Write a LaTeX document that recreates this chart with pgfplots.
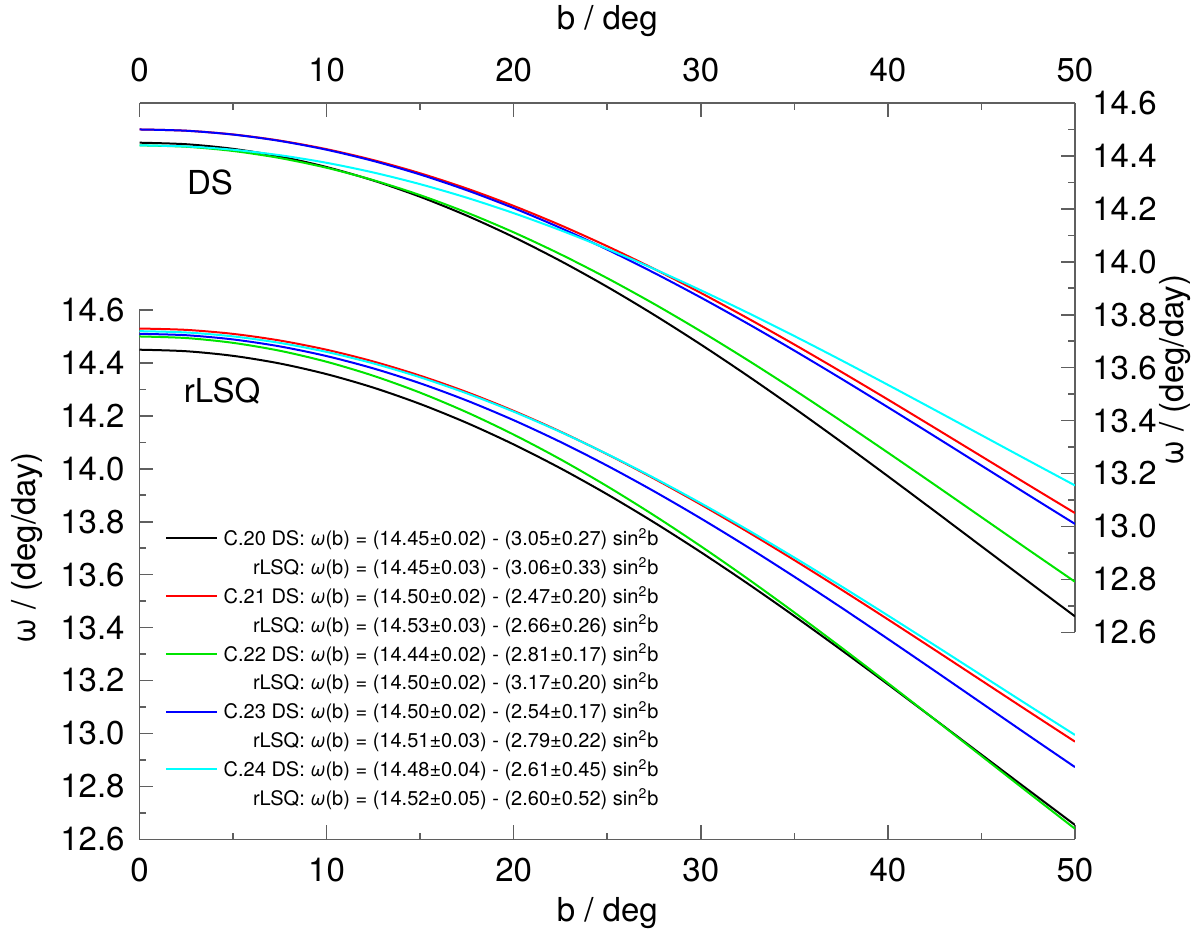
\documentclass[border=0pt]{standalone}
\usepackage{fontspec}
\setmainfont{TeX Gyre Heros}
\usepackage{pgfplots}
\usepackage{pgfplotstable}
\pgfplotsset{compat=1.18}

\definecolor{axgray}{RGB}{95,95,95}
\definecolor{cgreen}{RGB}{0,228,0}
\definecolor{ccyan}{RGB}{0,255,255}
\definecolor{cred}{RGB}{255,0,0}
\definecolor{cblue}{RGB}{0,0,255}

% DS curves (top axis)
\pgfplotstableread{
b    c20     c21     c22     c23     c24
0    14.4500 14.5000 14.4400 14.5000 14.4400
2.5  14.4442 14.4953 14.4347 14.4952 14.4358
5    14.4268 14.4812 14.4187 14.4807 14.4234
7.5  14.3980 14.4579 14.3921 14.4567 14.4027
10   14.3580 14.4255 14.3553 14.4234 14.3740
12.5 14.3071 14.3843 14.3084 14.3810 14.3374
15   14.2457 14.3345 14.2518 14.3299 14.2933
17.5 14.1742 14.2767 14.1859 14.2703 14.2420
20   14.0932 14.2111 14.1113 14.2029 14.1838
22.5 14.0033 14.1383 14.0285 14.1280 14.1193
25   13.9053 14.0588 13.9381 14.0463 14.0489
27.5 13.7997 13.9734 13.8409 13.9584 13.9731
30   13.6875 13.8825 13.7375 13.8650 13.8925
32.5 13.5695 13.7869 13.6288 13.7667 13.8078
35   13.4466 13.6874 13.5155 13.6644 13.7195
37.5 13.3197 13.5846 13.3986 13.5587 13.6284
40   13.1898 13.4795 13.2790 13.4505 13.5351
42.5 13.0579 13.3726 13.1575 13.3407 13.4404
45   12.9250 13.2650 13.0350 13.2300 13.3450
47.5 12.7921 13.1574 12.9125 13.1193 13.2496
50   12.6602 13.0505 12.7910 13.0095 13.1549
}\dstable

% rLSQ curves (bottom axis)
\pgfplotstableread{
b    c20     c21     c22     c23     c24
0    14.4500 14.5300 14.5000 14.5100 14.5200
2.5  14.4442 14.5249 14.4940 14.5047 14.5151
5    14.4268 14.5098 14.4759 14.4888 14.5003
7.5  14.3979 14.4847 14.4460 14.4625 14.4757
10   14.3577 14.4498 14.4044 14.4259 14.4416
12.5 14.3067 14.4054 14.3515 14.3793 14.3982
15   14.2450 14.3518 14.2877 14.3231 14.3458
17.5 14.1733 14.2895 14.2134 14.2577 14.2849
20   14.0920 14.2188 14.1292 14.1836 14.2159
22.5 14.0019 14.1405 14.0358 14.1014 14.1392
25   13.9035 14.0549 13.9338 14.0117 14.0556
27.5 13.7976 13.9629 13.8241 13.9151 13.9656
30   13.6850 13.8650 13.7075 13.8125 13.8700
32.5 13.5666 13.7621 13.5849 13.7046 13.7694
35   13.4433 13.6549 13.4571 13.5921 13.6646
37.5 13.3160 13.5442 13.3252 13.4761 13.5565
40   13.1857 13.4310 13.1902 13.3572 13.4457
42.5 13.0533 13.3159 13.0531 13.2366 13.3333
45   12.9200 13.2000 12.9150 13.1150 13.2200
47.5 12.7867 13.0841 12.7769 12.9934 13.1067
50   12.6543 12.9690 12.6398 12.8728 12.9943
}\rlsqtable

\newcommand{\bigf}{\fontsize{16.5}{19}\selectfont}

\pgfplotsset{
  base/.style={
    scale only axis, width=467.75pt, height=264.65pt,
    xmin=0, xmax=50, ymin=12.6, ymax=14.6,
    xtick={0,10,20,30,40,50},
    ytick={12.6,12.8,13.0,13.2,13.4,13.6,13.8,14.0,14.2,14.4,14.6},
    minor tick num=1,
    axis line style={axgray, line width=0.8pt, -},
    every tick/.style={axgray, line width=0.8pt},
    major tick length=7pt, minor tick length=3.3pt,
    /pgf/number format/assume math mode=true,
    tick label style={font=\bigf, inner sep=0pt},
    yticklabel style={/pgf/number format/fixed, /pgf/number format/fixed zerofill, /pgf/number format/precision=1},
    label style={font=\bigf},
    every axis plot/.append style={line width=1pt, smooth},
  }
}

\begin{document}
\begin{tikzpicture}
\useasboundingbox (0,0) rectangle (600pt,467pt);

% bottom axis: rLSQ
\begin{axis}[base, at={(69.75pt,47.35pt)}, anchor=south west,
  axis x line=bottom, axis y line=left, tick align=inside,
  axis line style={axgray, line width=0.8pt, -},
  xticklabel style={yshift=-9.3pt},
  yticklabel style={xshift=-7.25pt},
  xlabel={b / deg},
  xlabel style={at={(axis description cs:0.5,-0.1392)}, anchor=center, font=\bigf},
  ylabel={ω / (deg/day)},
  ylabel style={at={(axis description cs:-0.1197,0.5504)}, anchor=center, font=\bigf},
  legend cell align=right,
  legend image code/.code={\draw[#1, line width=1pt] (0pt,0pt) -- (25.5pt,0pt);},
  legend style={draw=none, fill=none, inner sep=0pt, outer sep=0pt,
    at={(axis description cs:0.02726,0.5960)}, anchor=north west,
    font=\fontsize{10}{12}\selectfont, row sep=0pt, column sep=2.85pt,
    nodes={inner sep=0pt, text height=10.825pt, text depth=3.625pt}},
]
\addplot[black, forget plot] table[x=b, y=c20] {\rlsqtable};
\addplot[cred, forget plot] table[x=b, y=c21] {\rlsqtable};
\addplot[cgreen, forget plot] table[x=b, y=c22] {\rlsqtable};
\addplot[cblue, forget plot] table[x=b, y=c23] {\rlsqtable};
\addplot[ccyan, forget plot] table[x=b, y=c24] {\rlsqtable};

\addlegendimage{black}
\addlegendentry{C.20 DS: \textit{ω}(b) = (14.45±0.02) - (3.05±0.27) sin\textsuperscript{2}b}
\addlegendimage{empty legend}
\addlegendentry{rLSQ: \textit{ω}(b) = (14.45±0.03) - (3.06±0.33) sin\textsuperscript{2}b}
\addlegendimage{cred}
\addlegendentry{C.21 DS: \textit{ω}(b) = (14.50±0.02) - (2.47±0.20) sin\textsuperscript{2}b}
\addlegendimage{empty legend}
\addlegendentry{rLSQ: \textit{ω}(b) = (14.53±0.03) - (2.66±0.26) sin\textsuperscript{2}b}
\addlegendimage{cgreen}
\addlegendentry{C.22 DS: \textit{ω}(b) = (14.44±0.02) - (2.81±0.17) sin\textsuperscript{2}b}
\addlegendimage{empty legend}
\addlegendentry{rLSQ: \textit{ω}(b) = (14.50±0.02) - (3.17±0.20) sin\textsuperscript{2}b}
\addlegendimage{cblue}
\addlegendentry{C.23 DS: \textit{ω}(b) = (14.50±0.02) - (2.54±0.17) sin\textsuperscript{2}b}
\addlegendimage{empty legend}
\addlegendentry{rLSQ: \textit{ω}(b) = (14.51±0.03) - (2.79±0.22) sin\textsuperscript{2}b}
\addlegendimage{ccyan}
\addlegendentry{C.24 DS: \textit{ω}(b) = (14.48±0.04) - (2.61±0.45) sin\textsuperscript{2}b}
\addlegendimage{empty legend}
\addlegendentry{rLSQ: \textit{ω}(b) = (14.52±0.05) - (2.60±0.52) sin\textsuperscript{2}b}

\node[anchor=base, font=\bigf] at (axis cs:4.41,14.252) {rLSQ};
\end{axis}

% top axis: DS
\begin{axis}[base, at={(69.75pt,150.85pt)}, anchor=south west,
  axis x line=top, axis y line=right, tick align=inside,
  axis line style={axgray, line width=0.8pt, -},
  xticklabel style={yshift=10.5pt},
  yticklabel style={xshift=8.5pt},
  xlabel={b / deg},
  xlabel style={at={(axis description cs:0.5,1.1547)}, anchor=center, font=\bigf},
  ylabel={ω / (deg/day)},
  ylabel style={at={(axis description cs:1.1069,0.4953)}, anchor=center, font=\bigf},
]
\addplot[black] table[x=b, y=c20] {\dstable};
\addplot[cred] table[x=b, y=c21] {\dstable};
\addplot[cgreen] table[x=b, y=c22] {\dstable};
\addplot[cblue] table[x=b, y=c23] {\dstable};
\addplot[ccyan] table[x=b, y=c24] {\dstable};

\node[anchor=base, font=\bigf] at (axis cs:3.77,14.255) {DS};
\end{axis}
\end{tikzpicture}
\end{document}
